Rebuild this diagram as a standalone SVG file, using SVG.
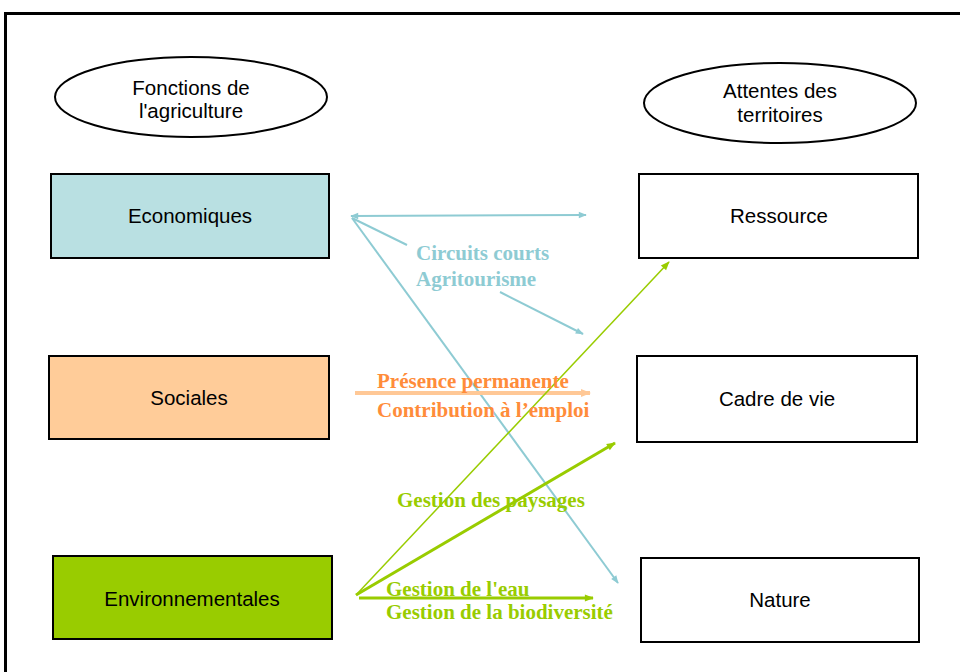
<svg xmlns="http://www.w3.org/2000/svg" width="960" height="672" viewBox="0 0 960 672">
<style>
.box{stroke:#000;stroke-width:2}
.lbl{font-family:"Liberation Sans",Arial,sans-serif;font-size:20.5px;fill:#000;text-anchor:middle}
.bt{font-family:"Liberation Serif","Times New Roman",serif;font-size:21px;font-weight:bold}
.cy{stroke:#8ECBD3;fill:none}
.gr{stroke:#99CC00;fill:none}
</style>
<defs>
<marker id="ac2" viewBox="0 0 10 10" refX="9" refY="5" markerWidth="10" markerHeight="8" orient="auto-start-reverse" markerUnits="userSpaceOnUse"><path d="M0,1 L10,5 L0,9 z" fill="#8ECBD3"/></marker>
<marker id="ao" viewBox="0 0 10 10" refX="9" refY="5" markerWidth="12" markerHeight="10" orient="auto" markerUnits="userSpaceOnUse"><path d="M0,1 L10,5 L0,9 z" fill="#FFC896"/></marker>
<marker id="ag" viewBox="0 0 10 10" refX="9" refY="5" markerWidth="10" markerHeight="9" orient="auto" markerUnits="userSpaceOnUse"><path d="M0,1 L10,5 L0,9 z" fill="#99CC00"/></marker>
</defs>
<rect x="5.5" y="13.5" width="1000" height="700" fill="#fff" stroke="#000" stroke-width="3"/>
<g id="title-left"><ellipse cx="191" cy="97" rx="136" ry="40" fill="#fff" stroke="#000" stroke-width="2"/><text class="lbl" x="191" y="95">Fonctions de</text><text class="lbl" x="191" y="118">l'agriculture</text></g>
<g id="title-right"><ellipse cx="780" cy="103" rx="136" ry="40" fill="#fff" stroke="#000" stroke-width="2"/><text class="lbl" x="780" y="98">Attentes des</text><text class="lbl" x="780" y="122">territoires</text></g>
<g id="economiques"><rect class="box" x="51" y="174" width="278" height="84" fill="#B9E0E2"/><text class="lbl" x="190" y="223">Economiques</text></g>
<g id="sociales"><rect class="box" x="49" y="356" width="280" height="83" fill="#FFCC99"/><text class="lbl" x="189" y="405">Sociales</text></g>
<g id="environnementales"><rect class="box" x="53" y="556" width="279" height="83" fill="#99CC00"/><text class="lbl" x="192" y="606">Environnementales</text></g>
<g id="ressource"><rect class="box" x="639" y="174" width="279" height="84" fill="#fff"/><text class="lbl" x="779" y="223">Ressource</text></g>
<g id="cadre"><rect class="box" x="637" y="356" width="280" height="86" fill="#fff"/><text class="lbl" x="777" y="406">Cadre de vie</text></g>
<g id="nature"><rect class="box" x="641" y="558" width="278" height="84" fill="#fff"/><text class="lbl" x="780" y="607">Nature</text></g>
<g id="connectors">
<line class="cy" x1="351" y1="216" x2="586" y2="215" stroke-width="2" marker-start="url(#ac2)" marker-end="url(#ac2)"/>
<line class="cy" x1="352" y1="218" x2="407" y2="245" stroke-width="2"/>
<line class="cy" x1="500" y1="292" x2="583" y2="334" stroke-width="2" marker-end="url(#ac2)"/>
<line class="cy" x1="352" y1="218" x2="618" y2="583" stroke-width="2" marker-end="url(#ac2)"/>
<line x1="355" y1="393" x2="590" y2="393" stroke="#FFC896" stroke-width="4" marker-end="url(#ao)"/>
<line class="gr" x1="356" y1="595" x2="669" y2="262" stroke-width="1.5" marker-end="url(#ag)"/>
<line class="gr" x1="356" y1="595" x2="615" y2="443" stroke-width="3" marker-end="url(#ag)"/>
<line class="gr" x1="359" y1="598" x2="593" y2="598" stroke-width="3" marker-end="url(#ag)"/>
</g>
<g id="labels">
<text class="bt" x="416" y="260" fill="#8ECBD3">Circuits courts</text>
<text class="bt" x="416" y="286" fill="#8ECBD3">Agritourisme</text>
<text class="bt" x="377" y="388" fill="#FF8C3A">Présence permanente</text>
<text class="bt" x="377" y="417" fill="#FF8C3A">Contribution à l’emploi</text>
<text class="bt" x="397" y="507" fill="#99CC00">Gestion des paysages</text>
<text class="bt" x="386" y="596" fill="#99CC00">Gestion de l'eau</text>
<text class="bt" x="386" y="619" fill="#99CC00">Gestion de la biodiversité</text>
</g>
</svg>
